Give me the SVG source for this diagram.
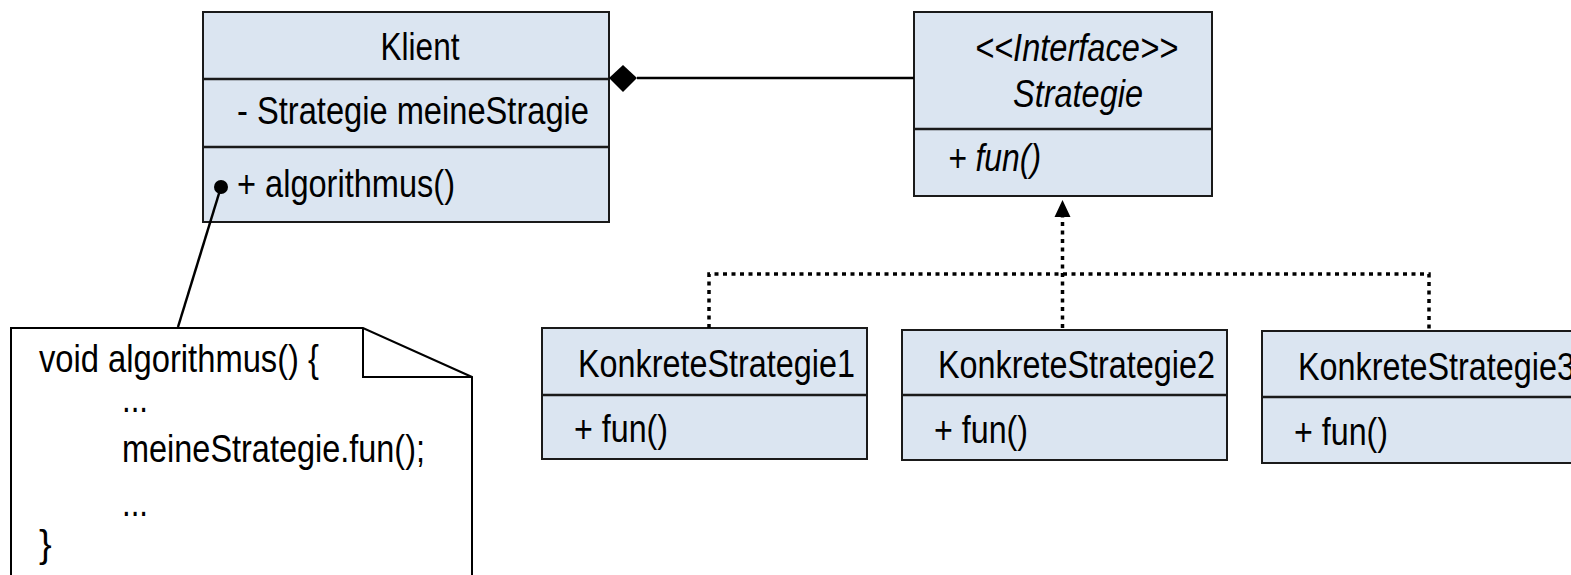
<svg xmlns="http://www.w3.org/2000/svg" width="1571" height="575" viewBox="0 0 1571 575">
<style>
.box{fill:#dbe5f1;stroke:#1a1a1a;stroke-width:2}
.div{stroke:#1a1a1a;stroke-width:2.5}
text{font-family:"Liberation Sans",Arial,sans-serif;font-size:38px;fill:#000}
.it{font-style:italic}
.dot{fill:none;stroke:#000;stroke-width:3.5;stroke-dasharray:4 4.5}
.ln{fill:none;stroke:#000;stroke-width:2.5}
</style>
<rect width="1571" height="575" fill="#fff"/>
<g id="klient">
<rect class="box" x="203" y="12" width="406" height="210"/>
<line class="div" x1="203" y1="79" x2="609" y2="79"/>
<line class="div" x1="203" y1="147" x2="609" y2="147"/>
<text x="420" y="60" text-anchor="middle" textLength="79" lengthAdjust="spacingAndGlyphs">Klient</text>
<text x="237" y="124" textLength="352" lengthAdjust="spacingAndGlyphs">- Strategie meineStragie</text>
<text x="237" y="197" textLength="218" lengthAdjust="spacingAndGlyphs">+ algorithmus()</text>
</g>
<g id="strategie">
<rect class="box" x="914" y="12" width="298" height="184"/>
<line class="div" x1="914" y1="129" x2="1212" y2="129"/>
<text class="it" x="975" y="61" textLength="203" lengthAdjust="spacingAndGlyphs">&lt;&lt;Interface&gt;&gt;</text>
<text class="it" x="1013" y="107" textLength="130" lengthAdjust="spacingAndGlyphs">Strategie</text>
<text class="it" x="948" y="171" textLength="93" lengthAdjust="spacingAndGlyphs">+ fun()</text>
</g>
<g id="ks1">
<rect class="box" x="542" y="328" width="325" height="131"/>
<line class="div" x1="542" y1="395" x2="867" y2="395"/>
<text x="578" y="377" textLength="277" lengthAdjust="spacingAndGlyphs">KonkreteStrategie1</text>
<text x="574" y="442" textLength="94" lengthAdjust="spacingAndGlyphs">+ fun()</text>
</g>
<g id="ks2">
<rect class="box" x="902" y="330" width="325" height="130"/>
<line class="div" x1="902" y1="395" x2="1227" y2="395"/>
<text x="938" y="378" textLength="277" lengthAdjust="spacingAndGlyphs">KonkreteStrategie2</text>
<text x="934" y="443" textLength="94" lengthAdjust="spacingAndGlyphs">+ fun()</text>
</g>
<g id="ks3">
<rect class="box" x="1262" y="331" width="330" height="132"/>
<line class="div" x1="1262" y1="397" x2="1592" y2="397"/>
<text x="1298" y="380" textLength="277" lengthAdjust="spacingAndGlyphs">KonkreteStrategie3</text>
<text x="1294" y="445" textLength="94" lengthAdjust="spacingAndGlyphs">+ fun()</text>
</g>
<g id="note">
<path d="M11,328 H363 L472,377 V580 H11 Z" fill="#fff" stroke="#000" stroke-width="2"/>
<path d="M363,328 V377 H472" fill="none" stroke="#000" stroke-width="2"/>
<text x="39" y="372" textLength="280" lengthAdjust="spacingAndGlyphs">void algorithmus() {</text>
<text x="122" y="412" textLength="26" lengthAdjust="spacingAndGlyphs">...</text>
<text x="122" y="462" textLength="303" lengthAdjust="spacingAndGlyphs">meineStrategie.fun();</text>
<text x="122" y="516" textLength="26" lengthAdjust="spacingAndGlyphs">...</text>
<text x="39" y="557">}</text>
</g>
<g id="connectors">
<line class="ln" x1="637" y1="78" x2="914" y2="78"/>
<polygon points="609,78 623,65 637,78 623,92" fill="#000"/>
<line class="ln" x1="221" y1="187" x2="178" y2="327" stroke-width="2"/>
<circle cx="221" cy="187" r="7" fill="#000"/>
<path class="dot" d="M709,328 V274 H1429 V331"/>
<path class="dot" d="M1062.5,328 V216"/>
<polygon points="1062.5,200 1054.5,217 1070.5,217" fill="#000"/>
</g>
</svg>
